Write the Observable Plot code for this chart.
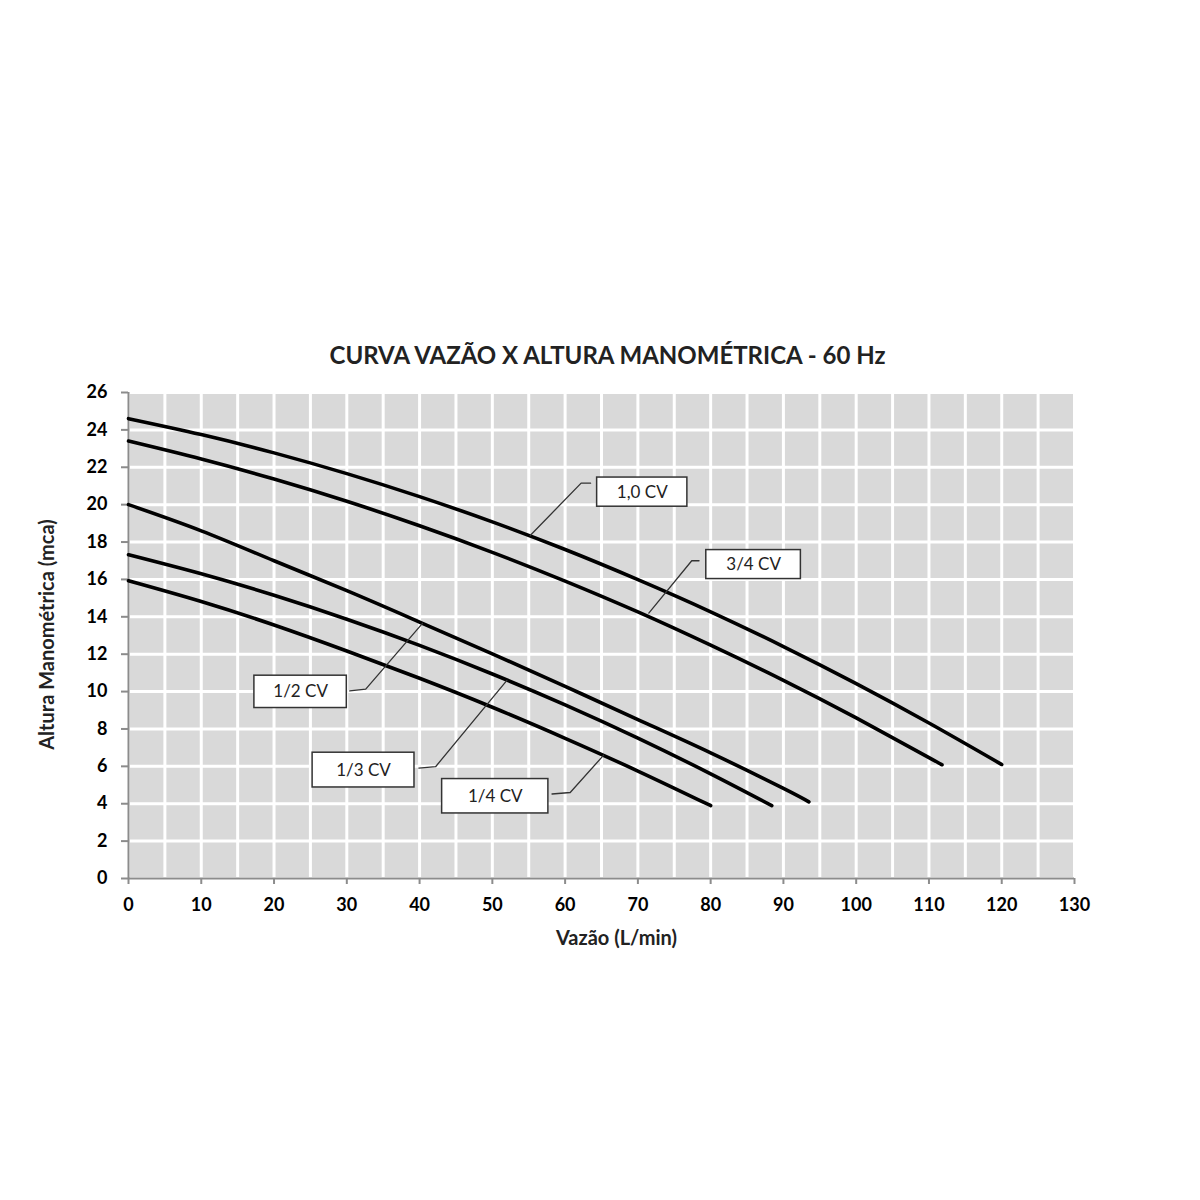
<!DOCTYPE html>
<html>
<head>
<meta charset="utf-8">
<script src="https://cdn.jsdelivr.net/npm/d3@7"></script>
<script src="https://cdn.jsdelivr.net/npm/@observablehq/plot@0.6"></script>
<style>
  body { margin: 0; background: #fff; }
  #chart { width: 1200px; height: 1200px; }
</style>
</head>
<body>
<div id="chart"></div>
<script>
// ---- Data ----
const chartTitle = "CURVA VAZÃO X ALTURA MANOMÉTRICA - 60 Hz";
const xTitle = "Vazão (L/min)";
const yTitle = "Altura Manométrica (mca)";

const seriesNames = ["1,0 CV", "3/4 CV", "1/2 CV", "1/3 CV", "1/4 CV"];

const flowCV10 = [0, 10, 20, 30, 40, 50, 60, 70, 80, 90, 100, 110, 120];
const headCV10 = [24.6, 23.75, 22.77, 21.66, 20.43, 19.08, 17.6, 15.99, 14.27, 12.41, 10.43, 8.32, 6.1];

const flowCV34 = [0, 10, 20, 30, 40, 50, 60, 70, 80, 90, 100, 110, 111.7];
const headCV34 = [23.4, 22.44, 21.37, 20.18, 18.87, 17.45, 15.91, 14.26, 12.48, 10.6, 8.59, 6.47, 6.1];

const flowCV12 = [0, 10, 20, 30, 40, 50, 60, 70, 80, 90, 93.5];
const headCV12 = [20.0, 18.6, 17.0, 15.4, 13.72, 12.02, 10.28, 8.5, 6.72, 4.82, 4.1];

const flowCV13 = [0, 10, 20, 30, 40, 50, 60, 70, 80, 88.4];
const headCV13 = [17.32, 16.3, 15.15, 13.87, 12.47, 10.94, 9.29, 7.51, 5.6, 3.9];

const flowCV14 = [0, 10, 20, 30, 40, 50, 60, 70, 80];
const headCV14 = [15.93, 14.82, 13.56, 12.17, 10.71, 9.16, 7.5, 5.75, 3.9];

const xTicks = [0, 10, 20, 30, 40, 50, 60, 70, 80, 90, 100, 110, 120, 130];
const yTicks = [0, 2, 4, 6, 8, 10, 12, 14, 16, 18, 20, 22, 24, 26];
const xGrid = d3.range(0, 131, 5);
const yGrid = d3.range(0, 27, 2);

// Callout boxes (data units) and their leader lines
const labelX1 = [64.4, 79.4, 17.3, 25.3, 43.1];
const labelX2 = [76.8, 92.4, 30.0, 39.3, 57.7];
const labelY1 = [19.89, 16.02, 9.12, 4.87, 3.48];
const labelY2 = [21.45, 17.57, 10.85, 6.73, 5.32];

const leaderX = [[63.5, 62.2, 55.2], [78.4, 77.4, 71.5], [30.4, 32.6, 40.4], [39.9, 42.2, 52.0], [58.2, 60.7, 65.3]];
const leaderY = [[21.15, 21.15, 18.35], [17.0, 17.0, 14.2], [10.04, 10.13, 13.65], [5.91, 5.98, 10.6], [4.52, 4.6, 6.6]];

// ---- Build tables ----
const flows = [flowCV10, flowCV34, flowCV12, flowCV13, flowCV14];
const heads = [headCV10, headCV34, headCV12, headCV13, headCV14];
const curves = seriesNames.flatMap((s, i) => flows[i].map((q, j) => ({series: s, q, h: heads[i][j]})));
const boxes = seriesNames.map((s, i) => ({series: s, x1: labelX1[i], x2: labelX2[i], y1: labelY1[i], y2: labelY2[i]}));
const leaders = seriesNames.flatMap((s, i) => leaderX[i].map((x, j) => ({series: s, x, y: leaderY[i][j]})));

const font = "Lato, 'Open Sans', sans-serif";

const chart = Plot.plot({
  width: 1200,
  height: 1200,
  marginLeft: 128,
  marginRight: 126,
  marginTop: 392,
  marginBottom: 322,
  style: {fontFamily: font, fontSize: "18px", color: "black", background: "white"},
  x: {domain: [0, 130], label: null},
  y: {domain: [0, 26], label: null},
  marks: [
    Plot.frame({fill: "#d9d9d9", stroke: null}),
    Plot.ruleX(xGrid, {stroke: "white", strokeWidth: 3}),
    Plot.ruleY(yGrid, {stroke: "white", strokeWidth: 3}),
    Plot.ruleX([0], {stroke: "#8c8c8c", strokeWidth: 2}),
    Plot.ruleY([0], {stroke: "#8c8c8c", strokeWidth: 2}),
    Plot.axisX({ticks: xTicks, tickSize: 6, tickPadding: 14, stroke: "#8c8c8c", strokeWidth: 2, fontWeight: "bold", fontSize: 18, label: null}),
    Plot.axisY({ticks: yTicks, tickSize: 7, tickPadding: 14, stroke: "#8c8c8c", strokeWidth: 2, fontWeight: "bold", fontSize: 18, label: null}),
    Plot.line(curves, {x: "q", y: "h", z: "series", stroke: "black", strokeWidth: 3.6, curve: "natural"}),
    Plot.line(leaders, {x: "x", y: "y", z: "series", stroke: "#333", strokeWidth: 1.3}),
    Plot.rect(boxes, {x1: "x1", x2: "x2", y1: "y1", y2: "y2", fill: "white", stroke: "#333", strokeWidth: 1.5}),
    Plot.text(boxes, {x: d => (d.x1 + d.x2) / 2, y: d => (d.y1 + d.y2) / 2, text: "series", fontSize: 17, fill: "#222", fontWeight: "normal"}),
    Plot.text([chartTitle], {frameAnchor: "top", dx: 6, dy: -46, fontSize: 24, fontWeight: "bold", fill: "#222"}),
    Plot.text([xTitle], {frameAnchor: "bottom", dx: 15, dy: 66, fontSize: 20, fontWeight: "bold", fill: "#222"}),
    Plot.text([yTitle], {frameAnchor: "left", textAnchor: "middle", dx: -81, dy: -1, rotate: -90, fontSize: 20, fontWeight: "bold", fill: "#222"})
  ]
});

document.getElementById("chart").appendChild(chart);
</script>
</body>
</html>
